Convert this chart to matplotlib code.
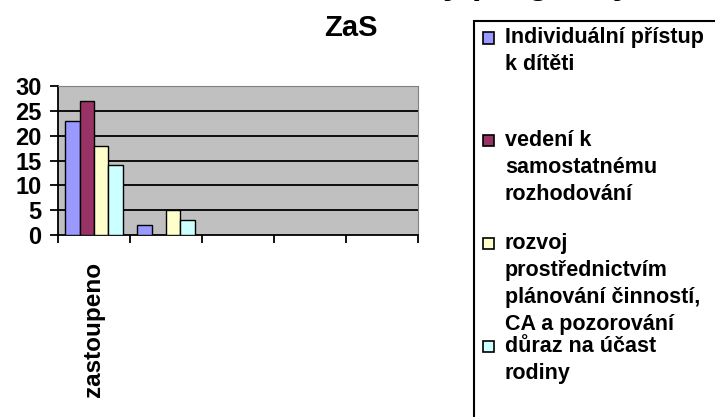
import matplotlib
matplotlib.use('Agg')
import matplotlib.pyplot as plt
import numpy as np
from matplotlib.patches import Rectangle

plt.rcParams['font.family'] = ['Liberation Sans', 'DejaVu Sans']
plt.rcParams['font.weight'] = 'bold'

# data
categories = ['zastoupeno', '', '', '', '']
series_names = [
    'Individuální přístup\nk dítěti',
    'vedení k\nsamostatnému\nrozhodování',
    'rozvoj\nprostřednictvím\nplánování činností,\nCA a pozorování',
    'důraz na účast\nrodiny',
]
individualni = [23, 2, 0, 0, 0]
vedeni = [27, 0, 0, 0, 0]
rozvoj = [18, 5, 0, 0, 0]
duraz = [14, 3, 0, 0, 0]
colors = ['#9999FF', '#993366', '#FFFFCC', '#CCFFFF']

W, H = 715, 417
fig = plt.figure(figsize=(W / 100, H / 100), dpi=100)

def fx(px):
    return px / W

def fy(py):
    return 1 - py / H

ax = fig.add_axes([fx(58), fy(235), fx(418) - fx(58), fy(86) - fy(235)])
ax.set_facecolor('#C0C0C0')

x = np.arange(len(categories))
w = 0.2
for i, vals in enumerate([individualni, vedeni, rozvoj, duraz]):
    vals = np.array(vals)
    show = vals > 0
    ax.bar(x[show] + (i - 1.5) * w, vals[show], width=w, color=colors[i],
           edgecolor='black', linewidth=1.0, zorder=3)

ax.set_xlim(-0.5, len(categories) - 0.5)
ax.set_ylim(0, 30)
ax.set_yticks(np.arange(0, 31, 5))
for yv in range(5, 30, 5):
    ax.axhline(yv, color='black', linewidth=1.3, zorder=1)

ax.set_xticks(np.arange(-0.5, len(categories), 1))
ax.set_xticklabels([])
ax.set_xticks(x, minor=True)
ax.set_xticklabels(categories, minor=True, rotation=90, fontsize=17.5, fontweight='bold')
ax.tick_params(axis='x', which='minor', length=0, pad=19)
ax.tick_params(axis='x', which='major', length=6, width=1.3, direction='out')
ax.tick_params(axis='y', length=6, width=1.3, direction='out', labelsize=17, pad=6)
for lab in ax.get_yticklabels():
    lab.set_fontweight('bold')

ax.spines['left'].set_linewidth(1.3)
ax.spines['bottom'].set_linewidth(1.3)
ax.spines['top'].set_color('#808080')
ax.spines['right'].set_color('#808080')

# titles (the upper one is cut off by the top edge, as in the original)
fig.text(fx(443), fy(-6.2), 'y programy', fontsize=25, fontweight='bold',
         ha='left', va='baseline')
fig.text(fx(351), fy(36), 'ZaS', fontsize=21, fontweight='bold',
         ha='center', va='baseline')

# legend drawn by hand to keep the original spacing
fig.patches.append(Rectangle((fx(474), fy(425)), fx(260), fy(21) - fy(425),
                             transform=fig.transFigure, facecolor='white',
                             edgecolor='black', linewidth=1.5, zorder=0))
entry_gap = 102.7
line_gap = 27
for i, name in enumerate(series_names):
    y0 = 38 + i * entry_gap
    fig.patches.append(Rectangle((fx(483), fy(y0 + 5.5)), fx(11), fy(y0 - 5.5) - fy(y0 + 5.5),
                                 transform=fig.transFigure, facecolor=colors[i],
                                 edgecolor='black', linewidth=1.2, zorder=2))
    for j, line in enumerate(name.split('\n')):
        fig.text(fx(505), fy(y0 + j * line_gap), line, fontsize=15.5,
                 fontweight='bold', ha='left', va='center')

fig.savefig('out.png', dpi=100)
